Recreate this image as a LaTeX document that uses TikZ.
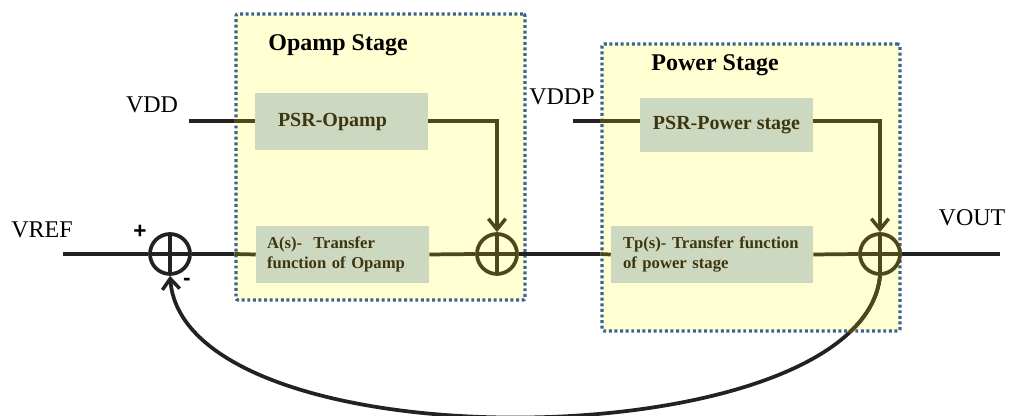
\documentclass[tikz,border=0pt]{standalone}
\usepackage{fontspec}
\setmainfont{Liberation Serif}
\newfontfamily\signfont{Liberation Sans}
\usetikzlibrary{arrows.meta}

\definecolor{olive}{RGB}{76,72,26}
\definecolor{boxtext}{RGB}{62,54,16}
\definecolor{boxfill}{RGB}{204,217,192}
\definecolor{stagefill}{RGB}{255,255,210}
\definecolor{dotblue}{RGB}{58,98,148}
\definecolor{dk}{RGB}{34,34,34}

\tikzset{
  stage/.style={fill=stagefill, draw=dotblue, line width=2.4pt,
    dash pattern=on 2.2pt off 2pt, rounded corners=1.5pt, inner sep=0pt},
  stagetitle/.style={font=\fontsize{18}{20}\selectfont\bfseries, text=black},
  blockbox/.style={fill=boxfill, draw=none, text=boxtext, inner ysep=0pt},
  psrbox/.style={blockbox, font=\fontsize{15}{17}\selectfont\bfseries},
  tfbox/.style={blockbox, font=\fontsize{12.5}{15}\selectfont\bfseries, align=left},
  sumnode/.style={circle, draw=#1, line width=2.8pt, minimum size=40*0.75pt, inner sep=0pt,
    path picture={
      \draw[#1, line width=2.4pt]
        (path picture bounding box.north) -- (path picture bounding box.south)
        (path picture bounding box.west) -- (path picture bounding box.east);
    }},
  sig/.style={font=\fontsize{18}{20}\selectfont, text=black},
  sign/.style={font=\signfont\fontsize{17}{18}\selectfont\bfseries, text=black, inner sep=0pt},
  wiredk/.style={draw=dk, line width=2.8pt},
  wireol/.style={draw=olive, line width=2.8pt},
  barb/.style={-{Straight Barb[length=8pt, width=13pt, line width=2.6pt]}},
}

\begin{document}
\begin{tikzpicture}[x=0.75pt, y=-0.75pt]
  \useasboundingbox (0,0) rectangle (1009,416);

  % stage frames
  \node[stage, minimum width=289*0.75pt, minimum height=286*0.75pt] (opamp) at (380.5,157) {};
  \node[stage, minimum width=298*0.75pt, minimum height=287*0.75pt] (power) at (751,187.5) {};
  \node[stagetitle] (opampT) at (338,45) {Opamp Stage};
  \node[stagetitle] (powerT) at (715,65) {Power Stage};

  % blocks
  \node[psrbox, minimum width=173*0.75pt, minimum height=57*0.75pt,
        text width=(173-46)*0.75pt, inner xsep=23*0.75pt, align=left] (psrA) at (341.5,122) {PSR-Opamp};
  \node[tfbox, minimum height=57*0.75pt, text width=(173-22)*0.75pt, inner xsep=11*0.75pt]
        (tfA) at (342.5,254.5) {A(s)-\ \ Transfer\\function of Opamp};
  \node[psrbox, minimum width=173*0.75pt, minimum height=54*0.75pt] (psrP) at (726.5,125) {PSR-Power stage};
  \node[tfbox, minimum height=57*0.75pt, text width=(202-24)*0.75pt, inner xsep=12*0.75pt]
        (tfP) at (712,254.5) {Tp(s)- Transfer function\\of power stage};

  % summing junctions
  \node[sumnode=dk] (sum1) at (170,254) {};
  \node[sumnode=olive] (sum2) at (497,254) {};
  \node[sumnode=olive] (sum3) at (880,254) {};
  \node[sign] (plus) at (140,232) {+};
  \node[sign] (minus) at (187,282) {-};

  % signal names
  \node[sig] (vref) at (42,230) {VREF};
  \node[sig] (vdd) at (152,105) {VDD};
  \node[sig] (vddp) at (562,97) {VDDP};
  \node[sig] (vout) at (972,218) {VOUT};

  \coordinate (vrefin) at (63,254);
  \coordinate (vddin) at (189,121);
  \coordinate (vddpin) at (573,121);
  \coordinate (voutend) at (1000,254);

  % forward path
  \draw[wiredk] (vrefin) -- (sum1.west);
  \draw[wiredk] (sum1.east) -- (sum1.east -| opamp.west);
  \draw[wireol] (sum1.east -| opamp.west) -- (tfA.west);
  \draw[wireol] (tfA.east) -- (sum2.west);
  \draw[wiredk] (sum2.east) -- (sum2.east -| power.west);
  \draw[wireol] (sum2.east -| power.west) -- (tfP.west);
  \draw[wireol] (tfP.east) -- (sum3.west);
  \draw[wiredk] (sum3.east) -- (voutend);

  % supply paths
  \draw[wiredk] (vddin) -- (vddin -| opamp.west);
  \draw[wireol] (vddin -| opamp.west) -- (vddin -| psrA.west);
  \draw[wireol, barb] (psrA.east |- vddin) -| (sum2.north);
  \draw[wiredk] (vddpin) -- (vddpin -| power.west);
  \draw[wireol] (vddpin -| power.west) -- (vddpin -| psrP.west);
  \draw[wireol, barb] (psrP.east |- vddpin) -| (sum3.north);

  % feedback path
  \draw[wiredk, barb] (sum3.south) .. controls (862,460) and (185,468) .. (sum1.south);
  \begin{scope}
    \clip (power.north west) rectangle (power.south east);
    \draw[wireol] (sum3.south) .. controls (862,460) and (185,468) .. (sum1.south);
  \end{scope}
\end{tikzpicture}
\end{document}
